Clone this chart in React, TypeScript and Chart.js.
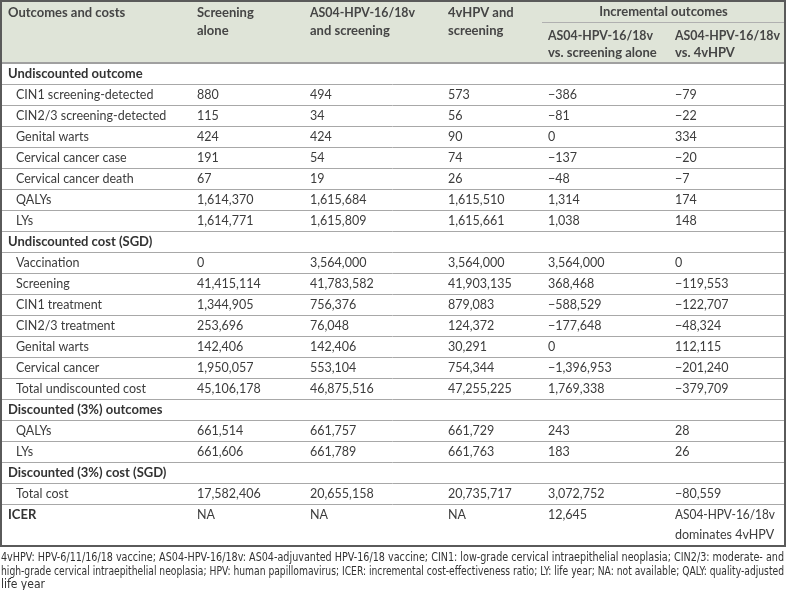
import React, { useEffect, useRef } from "react";
import { Chart, registerables } from "chart.js";

Chart.register(...registerables);

// ---- Data ----
const rowLabels = [
  "Undiscounted outcome",
  "CIN1 screening-detected",
  "CIN2/3 screening-detected",
  "Genital warts",
  "Cervical cancer case",
  "Cervical cancer death",
  "QALYs",
  "LYs",
  "Undiscounted cost (SGD)",
  "Vaccination",
  "Screening",
  "CIN1 treatment",
  "CIN2/3 treatment",
  "Genital warts",
  "Cervical cancer",
  "Total undiscounted cost",
  "Discounted (3%) outcomes",
  "QALYs",
  "LYs",
  "Discounted (3%) cost (SGD)",
  "Total cost",
  "ICER",
];
// 1 = section header (bold, flush), 2 = bold row, 0 = indented item
const rowKinds = [1, 0, 0, 0, 0, 0, 0, 0, 1, 0, 0, 0, 0, 0, 0, 0, 1, 0, 0, 1, 0, 2];

const screeningAlone: (number | string | null)[] = [null, 880, 115, 424, 191, 67, 1614370, 1614771, null, 0, 41415114, 1344905, 253696, 142406, 1950057, 45106178, null, 661514, 661606, null, 17582406, "NA"];
const as04Screening: (number | string | null)[] = [null, 494, 34, 424, 54, 19, 1615684, 1615809, null, 3564000, 41783582, 756376, 76048, 142406, 553104, 46875516, null, 661757, 661789, null, 20655158, "NA"];
const fourVScreening: (number | string | null)[] = [null, 573, 56, 90, 74, 26, 1615510, 1615661, null, 3564000, 41903135, 879083, 124372, 30291, 754344, 47255225, null, 661729, 661763, null, 20735717, "NA"];
const incVsScreening: (number | string | null)[] = [null, -386, -81, 0, -137, -48, 1314, 1038, null, 3564000, 368468, -588529, -177648, 0, -1396953, 1769338, null, 243, 183, null, 3072752, 12645];
const incVs4v: (number | string | null)[] = [null, -79, -22, 334, -20, -7, 174, 148, null, 0, -119553, -122707, -48324, 112115, -201240, -379709, null, 28, 26, null, -80559, "AS04-HPV-16/18v\ndominates 4vHPV"];

const headerLabels = [
  "Outcomes and costs",
  "Screening\nalone",
  "AS04-HPV-16/18v\nand screening",
  "4vHPV and\nscreening",
  "AS04-HPV-16/18v\nvs. screening alone",
  "AS04-HPV-16/18v\nvs. 4vHPV",
];
const groupHeader = "Incremental outcomes";

const footnoteLines = [
  "4vHPV: HPV-6/11/16/18 vaccine; AS04-HPV-16/18v: AS04-adjuvanted HPV-16/18 vaccine; CIN1: low-grade cervical intraepithelial neoplasia; CIN2/3: moderate- and",
  "high-grade cervical intraepithelial neoplasia; HPV: human papillomavirus; ICER: incremental cost-effectiveness ratio; LY: life year; NA: not available; QALY: quality-adjusted",
  "life year",
];

const columns = [screeningAlone, as04Screening, fourVScreening, incVsScreening, incVs4v];

function fmt(v: number | string | null): string {
  if (v === null) return "";
  if (typeof v === "string") return v;
  const s = Math.abs(v).toLocaleString("en-US");
  return v < 0 ? "\u2212" + s : s;
}

// ---- Layout (pixel units on the hidden linear scales) ----
const W = 787;
const H = 590;
const colX = [8, 197, 310, 448, 548, 675];
const indentX = 16;
const headerBottom = 63;
const rowH = 21;
const lastRowH = 42;
const tableRight = 785;
const groupLineX = 542;

const FONT = "Lato, 'Open Sans', sans-serif";

const tablePlugin = {
  id: "tablePlugin",
  beforeDraw(chart: any) {
    const ctx = chart.ctx;
    const xs = chart.scales.x;
    const ys = chart.scales.y;
    const X = (v: number) => xs.getPixelForValue(v);
    const Y = (v: number) => ys.getPixelForValue(v);

    const nRows = rowLabels.length;
    const rowTop = (i: number) => headerBottom + i * rowH;
    const tableBottom = rowTop(nRows - 1) + lastRowH;

    ctx.save();
    ctx.fillStyle = "#ffffff";
    ctx.fillRect(0, 0, chart.width, chart.height);

    // header background
    ctx.fillStyle = "#dfe4d8";
    ctx.fillRect(X(0), Y(0), X(tableRight) - X(0), Y(headerBottom) - Y(0));

    // row lines
    ctx.strokeStyle = "#a8a8a8";
    ctx.lineWidth = 1;
    for (let i = 1; i < nRows; i++) {
      const y = Math.round(Y(rowTop(i))) + 0.5;
      ctx.beginPath();
      ctx.moveTo(X(0), y);
      ctx.lineTo(X(tableRight), y);
      ctx.stroke();
    }
    // header bottom line
    ctx.strokeStyle = "#a0a0a0";
    ctx.lineWidth = 2;
    ctx.beginPath();
    ctx.moveTo(X(0), Y(headerBottom));
    ctx.lineTo(X(tableRight), Y(headerBottom));
    ctx.stroke();
    // group line
    ctx.lineWidth = 1;
    ctx.strokeStyle = "#b0b0b0";
    ctx.beginPath();
    ctx.moveTo(X(groupLineX), Math.round(Y(22)) + 0.5);
    ctx.lineTo(X(tableRight), Math.round(Y(22)) + 0.5);
    ctx.stroke();

    // outer border
    ctx.strokeStyle = "#5a5a5a";
    ctx.lineWidth = 2;
    ctx.strokeRect(X(1), Y(1), X(tableRight) - X(1), Y(tableBottom) - Y(1));

    // header text
    ctx.textBaseline = "middle";
    ctx.textAlign = "left";
    ctx.fillStyle = "#454545";
    ctx.font = "bold 13px " + FONT;
    ctx.fillText(headerLabels[0], X(colX[0]), Y(13));
    for (let c = 1; c <= 3; c++) {
      const parts = headerLabels[c].split("\n");
      parts.forEach((p, k) => ctx.fillText(p, X(colX[c]), Y(13 + k * 18), 105));
    }
    for (let c = 4; c <= 5; c++) {
      const parts = headerLabels[c].split("\n");
      parts.forEach((p, k) => ctx.fillText(p, X(colX[c]), Y(36 + k * 17), k === 0 ? 105 : 122));
    }
    ctx.textAlign = "center";
    ctx.fillText(groupHeader, X((groupLineX + tableRight) / 2), Y(12));
    ctx.textAlign = "left";

    // body
    for (let i = 0; i < nRows; i++) {
      const top = rowTop(i);
      const cy = top + rowH / 2 + 0.5;
      const kind = rowKinds[i];
      if (kind === 0) {
        ctx.font = "12.5px " + FONT;
        ctx.fillStyle = "#3c3c3c";
        ctx.fillText(rowLabels[i], X(indentX), Y(cy));
      } else {
        ctx.font = "bold 13px " + FONT;
        ctx.fillStyle = "#333333";
        ctx.fillText(rowLabels[i], X(colX[0]), Y(cy));
      }
      ctx.font = "12.5px " + FONT;
      ctx.fillStyle = "#3c3c3c";
      columns.forEach((col, c) => {
        const txt = fmt(col[i]);
        txt.split("\n").forEach((p, k) => ctx.fillText(p, X(colX[c + 1]), Y(cy + k * 20), 100));
      });
    }

    // footnote
    ctx.fillStyle = "#333333";
    ctx.font = "12px 'Liberation Sans Narrow', 'DejaVu Sans Condensed', sans-serif";
    ctx.textBaseline = "middle";
    ctx.fillText(footnoteLines[0], X(1), Y(558), 783);
    ctx.fillText(footnoteLines[1], X(1), Y(572), 783);
    ctx.fillText(footnoteLines[2], X(1), Y(585));
    ctx.restore();
  },
};

export default function App() {
  const ref = useRef<HTMLCanvasElement | null>(null);
  useEffect(() => {
    document.body.style.margin = "0";
    if (!ref.current) return;
    const chart = new Chart(ref.current, {
      type: "scatter",
      data: { datasets: [{ data: [], pointRadius: 0 }] },
      options: {
        animation: false,
        responsive: false,
        devicePixelRatio: 1,
        layout: { padding: 0 },
        plugins: { legend: { display: false }, tooltip: { enabled: false } },
        scales: {
          x: { type: "linear", min: 0, max: W, display: false },
          y: { type: "linear", min: 0, max: H, reverse: true, display: false },
        },
      },
      plugins: [tablePlugin],
    });
    return () => chart.destroy();
  }, []);
  return <canvas ref={ref} width={W} height={H} style={{ display: "block", width: W, height: H }} />;
}
